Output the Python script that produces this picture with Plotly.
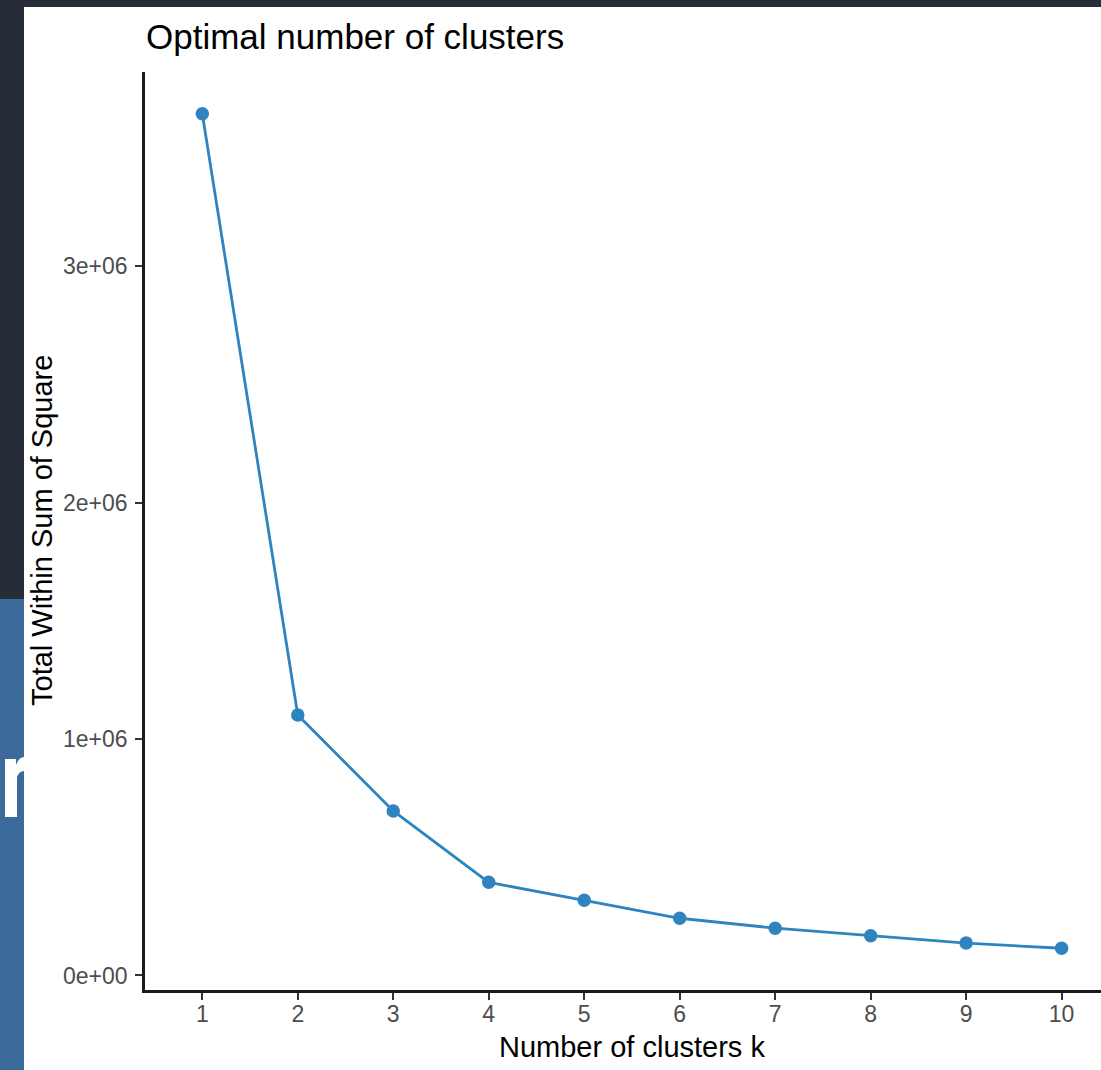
import plotly.graph_objects as go

# ---- data ----
k_values = [1, 2, 3, 4, 5, 6, 7, 8, 9, 10]
wss = [3.646e6, 1.102e6, 0.696e6, 0.394e6, 0.318e6, 0.242e6, 0.200e6, 0.168e6, 0.137e6, 0.115e6]
y_tick_vals = [0, 1e6, 2e6, 3e6]
y_tick_text = ["0e+00", "1e+06", "2e+06", "3e+06"]
x_tick_text = [str(k) for k in k_values]

title_text = "Optimal number of clusters"
x_title = "Number of clusters k"
y_title = "Total Within Sum of Square"

# ---- layout geometry (pixels) ----
W, H = 1101, 1070
ML, MR, MT, MB = 145, 0, 72, 80
PW, PH = W - ML - MR, H - MT - MB

def px(x):
    return (x - ML) / PW

def py(y):
    return 1 - (y - MT) / PH

# ggplot-like expansion
ymin, ymax = min(wss), max(wss)
span = ymax - ymin
y_range = [ymin - 0.05 * span, ymax + 0.05 * span]
x_unit = 95.48
x_range = [0.4, 0.4 + PW / x_unit]

LINE_COLOR = "#2f84c0"
FONT = "Liberation Sans, Arial, sans-serif"

fig = go.Figure()
fig.add_trace(go.Scatter(
    x=k_values, y=wss, mode="lines+markers",
    line=dict(color=LINE_COLOR, width=2.8),
    marker=dict(color=LINE_COLOR, size=13.5),
    hoverinfo="skip", showlegend=False,
))

# background decoration (slide behind the chart)
n_path = (f"M {px(5)},{py(817)} L {px(5)},{py(759)} L {px(16)},{py(759)} L {px(16)},{py(765)} "
          f"Q {px(19)},{py(757)} {px(24)},{py(757)} L {px(24)},{py(771)} "
          f"Q {px(19)},{py(771)} {px(17)},{py(777)} L {px(17)},{py(817)} Z")
shapes = [
    dict(type="rect", xref="paper", yref="paper", x0=px(-5), x1=px(24), y0=py(599), y1=py(H + 5),
         fillcolor="#3b6a9b", line=dict(width=0), layer="below"),
    dict(type="path", xref="paper", yref="paper", path=n_path,
         fillcolor="#ffffff", line=dict(width=0), layer="below"),
    dict(type="rect", xref="paper", yref="paper", x0=px(24), x1=px(W + 5), y0=py(7), y1=py(H + 5),
         fillcolor="#ffffff", line=dict(width=0), layer="below"),
]

annotations = [
    dict(text=title_text, xref="paper", yref="paper", x=px(144), y=py(37),
         xanchor="left", yanchor="middle", showarrow=False,
         font=dict(family=FONT, size=35, color="#000000")),
    dict(text=x_title, xref="paper", yref="paper", x=px(632), y=py(1047),
         xanchor="center", yanchor="middle", showarrow=False,
         font=dict(family=FONT, size=29, color="#000000")),
    dict(text=y_title, xref="paper", yref="paper", x=px(42), y=py(531),
         xanchor="center", yanchor="middle", showarrow=False, textangle=-90,
         font=dict(family=FONT, size=29, color="#000000")),
]

fig.update_layout(
    width=W, height=H,
    margin=dict(l=ML, r=MR, t=MT, b=MB, pad=0),
    paper_bgcolor="#262d39",
    plot_bgcolor="rgba(0,0,0,0)",
    shapes=shapes,
    annotations=annotations,
    font=dict(family=FONT),
    xaxis=dict(
        range=x_range, tickmode="array", tickvals=k_values, ticktext=x_tick_text,
        showgrid=False, zeroline=False, showline=True, linecolor="#1a1a1a", linewidth=2.5,
        ticks="outside", ticklen=7, tickwidth=2, tickcolor="#333333",
        tickfont=dict(family=FONT, size=23, color="#4d4d4d"),
        ticklabelstandoff=-5,
    ),
    yaxis=dict(
        range=y_range, tickmode="array", tickvals=y_tick_vals, ticktext=y_tick_text,
        showgrid=False, zeroline=False, showline=True, linecolor="#1a1a1a", linewidth=2.5,
        ticks="outside", ticklen=7, tickwidth=2, tickcolor="#333333",
        tickfont=dict(family=FONT, size=23, color="#4d4d4d"),
        ticklabelstandoff=3,
    ),
)

fig.write_html("out.html")
